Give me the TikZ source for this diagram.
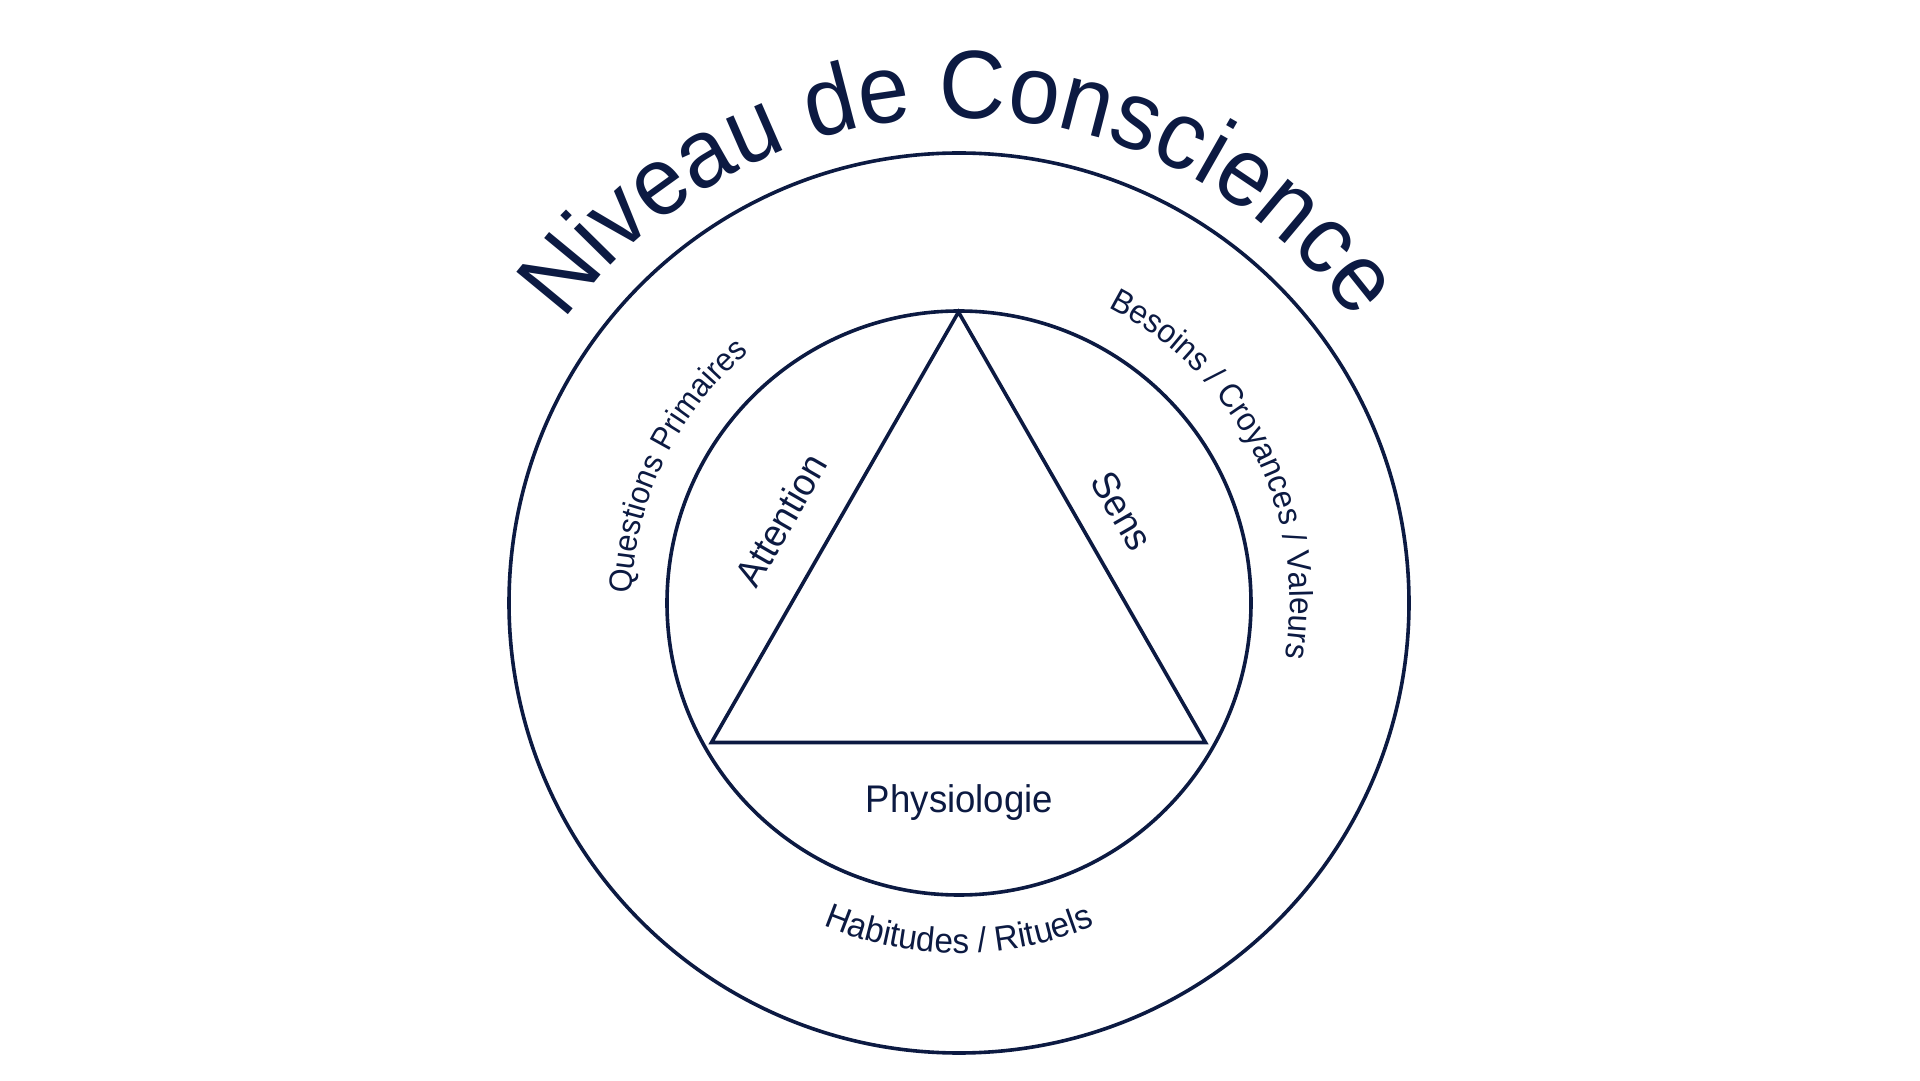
\documentclass[tikz,border=0pt]{standalone}
\usepackage{fontspec}
\setmainfont{Liberation Sans}
\newfontfamily\narrowsans[FakeStretch=0.95]{Liberation Sans}
\usetikzlibrary{decorations.text,calc}
\definecolor{navy}{RGB}{12,26,66}
\newcommand\titlefont{\narrowsans\fontsize{97}{104}\selectfont}
\newcommand\ringfontq{\narrowsans\fontsize{32.3}{38}\selectfont}
\newcommand\ringfont{\narrowsans\fontsize{33}{38}\selectfont}
\newcommand\ringfontb{\narrowsans\fontsize{35}{40}\selectfont}
\newcommand\trifont{\narrowsans\fontsize{38.5}{44}\selectfont}
\tikzset{
  ring/.style={line width=3.6pt, draw=navy},
  trilabel/.style={font=\trifont, text=navy, inner sep=0pt},
  curvedtext/.style={decorate, decoration={text along path, text align=center, text color=navy, text={#1}}}
}
\begin{document}
\begin{tikzpicture}[x=1pt,y=1pt]
\fill[white] (0,0) rectangle (1920,1080);
\useasboundingbox (0,0) rectangle (1920,1080);
\coordinate (C) at (959,477);
% circles
\draw[ring] (C) circle[radius=450pt];
\draw[ring] (C) circle[radius=292pt];
% triangle
\coordinate (apex) at (958.5,768);
\coordinate (bl) at (711.5,337.5);
\coordinate (br) at (1205.5,337.5);
\draw[ring] (apex) -- (bl) -- (br) -- cycle;
% triangle labels
\node[trilabel, rotate=60] (attention) at (781,560) {Attention};
\node[trilabel, rotate=-60] (sens) at (1122,569) {Sens};
\node[trilabel, anchor=base] (physio) at (959.5,268) {Physiologie};
% title
\path[curvedtext={|\titlefont|Niveau de Conscience}]
  ($(C)+(180:485pt)$) arc[start angle=180, end angle=0, radius=485pt];
% ring labels
\path[curvedtext={|\ringfontq|Questions Primaires}]
  ($(C)+(214.2:327pt)$) arc[start angle=214.2, end angle=94.2, radius=327pt];
\path[curvedtext={|\ringfont|Besoins / Croyances / Valeurs}]
  ($(C)+(96.8:331pt)$) arc[start angle=96.8, end angle=-43.2, radius=331pt];
\path[curvedtext={|\ringfontb|Habitudes / Rituels}]
  ($(C)+(200:350pt)$) arc[start angle=200, end angle=340, radius=350pt];
\end{tikzpicture}
\end{document}
